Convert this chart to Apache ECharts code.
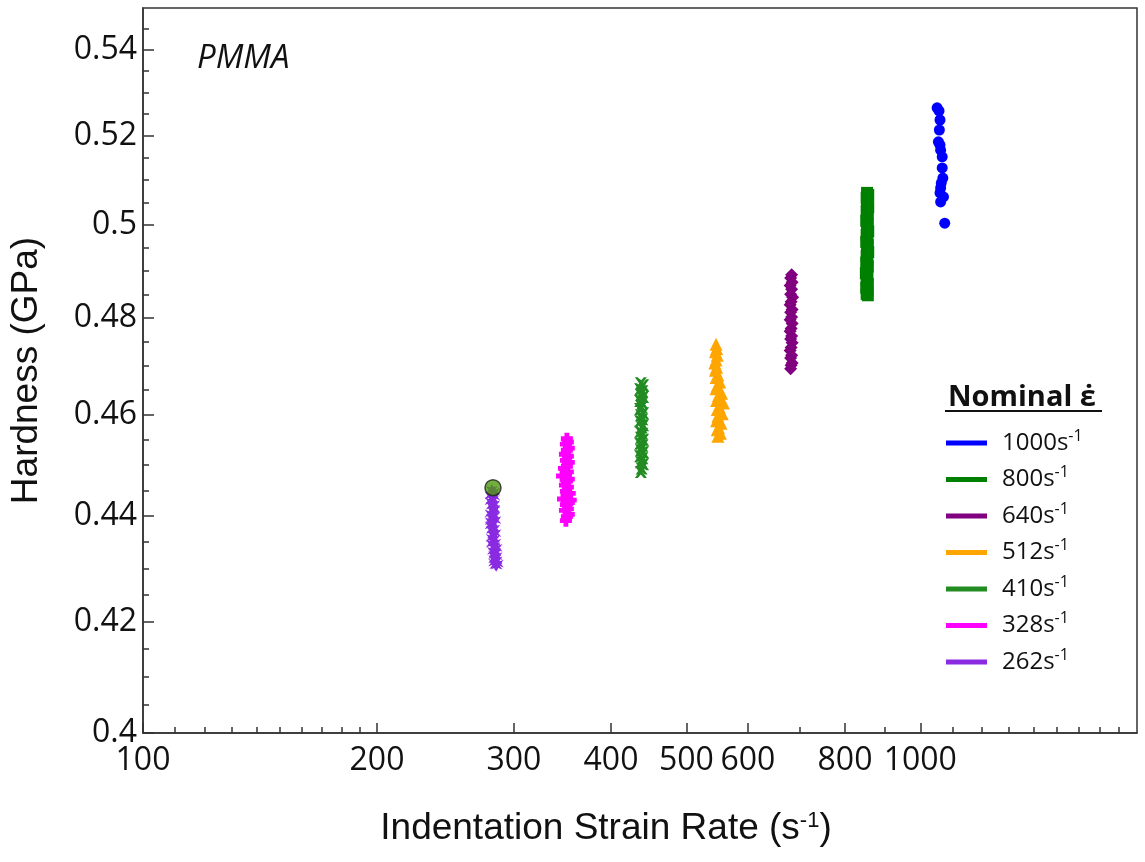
<!DOCTYPE html>
<html>
<head>
<meta charset="utf-8">
<script src="https://cdn.jsdelivr.net/npm/echarts@6/dist/echarts.min.js"></script>
<style>
  html, body { margin: 0; padding: 0; background: #fff; }
  #main { width: 1145px; height: 862px; }
</style>
</head>
<body>
<div id="main"></div>
<script>
// nominal rates, legend order (top to bottom)
var rateNames = ['1000', '800', '640', '512', '410', '328', '262'];
var rateColors = ['#0000ff', '#008000', '#800080', '#ffa500', '#228b22', '#ff00ff', '#8a2be2'];

// [indentation strain rate (1/s), hardness (GPa)]
var pts1000 = [[1051,0.5264],[1057,0.5257],[1060,0.5236],[1058,0.5213],[1055,0.5186],[1060,0.5179],
  [1062,0.5167],[1067,0.5152],[1067,0.5127],[1069,0.5104],[1064,0.5093],[1062,0.5082],[1060,0.5071],
  [1071,0.5062],[1062,0.5051],[1075,0.5004]];
var pts800 = [[854,0.5071],[857,0.5066],[853,0.5060],[856,0.5052],[854,0.5047],[857,0.5039],[853,0.5031],
  [856,0.5024],[854,0.5017],[852,0.5009],[856,0.5001],[854,0.4994],[857,0.4986],[853,0.4978],[855,0.4971],
  [852,0.4963],[856,0.4956],[854,0.4948],[857,0.4941],[853,0.4933],[855,0.4925],[852,0.4918],[856,0.4910],
  [854,0.4902],[851,0.4895],[855,0.4887],[853,0.4879],[856,0.4872],[852,0.4864],[855,0.4857],[853,0.4851],[856,0.4848]];
var pts640 = [[683,0.4892],[681,0.4885],[684,0.4876],[680,0.4869],[683,0.4861],[681,0.4850],[685,0.4844],
  [682,0.4834],[680,0.4828],[684,0.4818],[681,0.4812],[683,0.4802],[680,0.4796],[684,0.4788],[682,0.4778],
  [680,0.4772],[683,0.4762],[681,0.4756],[684,0.4748],[682,0.4738],[680,0.4732],[683,0.4722],[681,0.4716],
  [684,0.4706],[682,0.4701],[681,0.4694]];
var pts512 = [[546,0.4745],[547,0.4736],[545,0.4729],[548,0.4722],[546,0.4712],[544,0.4706],[547,0.4697],
  [545,0.4691],[549,0.4681],[546,0.4676],[552,0.4667],[548,0.4659],[546,0.4653],[555,0.4644],[550,0.4639],
  [547,0.4629],[558,0.4624],[551,0.4616],[548,0.4611],[556,0.4602],[549,0.4597],[547,0.4588],[554,0.4583],
  [550,0.4574],[548,0.4570],[553,0.4563],[549,0.4557]];
var pts410 = [[437,0.4664],[440,0.4660],[436,0.4652],[439,0.4648],[437,0.4640],[440,0.4636],[436,0.4628],
  [439,0.4624],[438,0.4616],[436,0.4612],[440,0.4603],[437,0.4599],[439,0.4591],[436,0.4587],[440,0.4579],
  [438,0.4575],[436,0.4566],[439,0.4562],[437,0.4554],[440,0.4550],[436,0.4542],[439,0.4538],[437,0.4529],
  [440,0.4525],[436,0.4517],[439,0.4513],[437,0.4505],[440,0.4501],[438,0.4493],[437,0.4486]];
var pts328 = [[351,0.4552],[352,0.4545],[350,0.4541],[353,0.4533],[351,0.4529],[349,0.4521],[352,0.4517],
  [350,0.4509],[353,0.4505],[351,0.4497],[348,0.4493],[346,0.4478],[352,0.4486],[350,0.4480],[353,0.4472],
  [351,0.4468],[349,0.4460],[352,0.4456],[350,0.4448],[354,0.4444],[347,0.4433],[355,0.4431],[351,0.4436],
  [353,0.4426],[350,0.4422],[352,0.4414],[349,0.4411],[353,0.4403],[351,0.4399],[350,0.4391]];
var pts262 = [[281,0.4451],[283,0.4447],[280,0.4440],[283,0.4438],[282,0.4432],[280,0.4429],[283,0.4423],
  [281,0.4420],[283,0.4414],[282,0.4410],[280,0.4405],[283,0.4401],[281,0.4396],[284,0.4392],[282,0.4385],
  [280,0.4382],[283,0.4376],[281,0.4373],[284,0.4367],[282,0.4364],[281,0.4358],[283,0.4356],[284,0.4349],
  [281,0.4347],[283,0.4341],[285,0.4339],[282,0.4333],[284,0.4331],[283,0.4325],[285,0.4323],[283,0.4317],
  [285,0.4315],[283,0.4311],[286,0.4309],[284,0.4306],[285,0.4305],[284,0.4330],[280,0.4390],[283,0.4412]];
var ptsHighlight = [[282,0.4455]];

// axis ticks
var xMajor = [100, 200, 300, 400, 500, 600, 800, 1000];
var xMinor = [110, 120, 130, 140, 150, 160, 170, 180, 190, 700, 900, 1100, 1200, 1300, 1400, 1500, 1600, 1700, 1800];
var yMajor = [0.4, 0.42, 0.44, 0.46, 0.48, 0.5, 0.52, 0.54];
var yMinor = [0.405, 0.41, 0.415, 0.425, 0.43, 0.435, 0.445, 0.45, 0.455, 0.465, 0.47, 0.475,
  0.485, 0.49, 0.495, 0.505, 0.51, 0.515, 0.525, 0.53, 0.535, 0.545];

var seriesPts = [pts1000, pts800, pts640, pts512, pts410, pts328, pts262];
var seriesSymbols = [
  'circle', 'rect', 'diamond', 'triangle',
  'path://M0,0 L2.5,0 L5,2.8 L7.5,0 L10,0 L6.4,5 L10,10 L7.5,10 L5,7.2 L2.5,10 L0,10 L3.6,5 Z',
  'path://M3,0 H7 V3 H10 V7 H7 V10 H3 V7 H0 V3 H3 Z',
  'path://M5,0 L6.3,3.2 L9.8,1.8 L7.4,5 L9.8,8.2 L6.3,6.8 L5,10 L3.7,6.8 L0.2,8.2 L2.6,5 L0.2,1.8 L3.7,3.2 Z'
];
var seriesSizes = [11, 12, 13, 13, 12, 12, 12];

var myChart = echarts.init(document.getElementById('main'));

var axisColor = '#333';
var tickFont = 'Open Sans';

var series = [];
for (var i = 0; i < rateNames.length; i++) {
  series.push({
    name: rateNames[i],
    type: 'scatter',
    xAxisIndex: 0,
    yAxisIndex: 0,
    symbol: seriesSymbols[i],
    symbolSize: seriesSizes[i],
    itemStyle: { color: rateColors[i], opacity: 1 },
    data: seriesPts[i]
  });
}
series.push({
  name: 'highlight',
  type: 'scatter',
  symbol: 'circle',
  symbolSize: 16,
  itemStyle: { color: '#4e9a0e', borderColor: '#222', borderWidth: 1.5 },
  data: ptsHighlight,
  z: 5
});

var option = {
  animation: false,
  backgroundColor: '#fff',
  title: [
    {
      text: 'PMMA',
      left: 192, top: 37,
      textStyle: { fontFamily: 'Open Sans', fontStyle: 'italic', fontWeight: 'normal', fontSize: 33, color: '#111' }
    },
    {
      text: 'Nominal \u03B5\u0307',
      left: 943, top: 378,
      textStyle: { fontFamily: 'Open Sans', fontWeight: 'bold', fontSize: 29, color: '#111' }
    }
  ],
  graphic: [
    { type: 'line', shape: { x1: 945, y1: 411, x2: 1102, y2: 411 }, style: { stroke: '#111', lineWidth: 2 } }
  ],
  grid: {
    left: 142, top: 8, right: 8, bottom: 129,
    show: true, borderColor: axisColor, borderWidth: 1.5
  },
  legend: {
    data: rateNames,
    orient: 'vertical',
    left: 946, top: 428,
    padding: 0,
    itemGap: 6.5,
    itemWidth: 41, itemHeight: 5,
    icon: 'rect',
    formatter: function (name) { return name + 's{sup|-1}'; },
    textStyle: {
      fontFamily: 'Open Sans', fontSize: 24, color: '#111', lineHeight: 30,
      padding: [0, 0, 0, 10],
      rich: { sup: { fontSize: 16, lineHeight: 16, verticalAlign: 'top' } }
    }
  },
  xAxis: [
    {
      type: 'log', min: 100, max: 1900,
      name: 'Indentation Strain Rate (s{sup|-1})',
      nameLocation: 'middle', nameGap: 77,
      nameTextStyle: {
        fontFamily: 'Liberation Sans', fontSize: 37, color: '#111', padding: [0, 68, 0, 0],
        rich: { sup: { fontSize: 22, verticalAlign: 'top', lineHeight: 22 } }
      },
      axisLine: { lineStyle: { color: axisColor, width: 1.5 } },
      axisTick: { inside: true, length: 10, customValues: xMajor, lineStyle: { color: axisColor, width: 1.5 } },
      axisLabel: {
        customValues: xMajor, margin: 12,
        fontFamily: tickFont, fontSize: 32, color: '#111',
        formatter: function (v) { return String(Math.round(v)); }
      },
      splitLine: { show: false }
    },
    {
      type: 'log', min: 100, max: 1900, position: 'bottom',
      axisLine: { show: false },
      axisTick: { inside: true, length: 6, customValues: xMinor, lineStyle: { color: axisColor, width: 1.5 } },
      axisLabel: { show: false },
      splitLine: { show: false }
    }
  ],
  yAxis: [
    {
      type: 'log', min: 0.4, max: 0.55,
      name: 'Hardness (GPa)',
      nameLocation: 'middle', nameGap: 98,
      nameTextStyle: { fontFamily: 'Liberation Sans', fontSize: 37, color: '#111' },
      axisLine: { lineStyle: { color: axisColor, width: 1.5 } },
      axisTick: { inside: true, length: 11, customValues: yMajor, lineStyle: { color: axisColor, width: 1.5 } },
      axisLabel: {
        customValues: yMajor, margin: 6,
        fontFamily: tickFont, fontSize: 32, color: '#111',
        formatter: function (v) { return String(Math.round(v * 100) / 100); }
      },
      splitLine: { show: false }
    },
    {
      type: 'log', min: 0.4, max: 0.55, position: 'left',
      axisLine: { show: false },
      axisTick: { inside: true, length: 6, customValues: yMinor, lineStyle: { color: axisColor, width: 1.5 } },
      axisLabel: { show: false },
      splitLine: { show: false }
    }
  ],
  series: series
};
myChart.setOption(option);
</script>
</body>
</html>
